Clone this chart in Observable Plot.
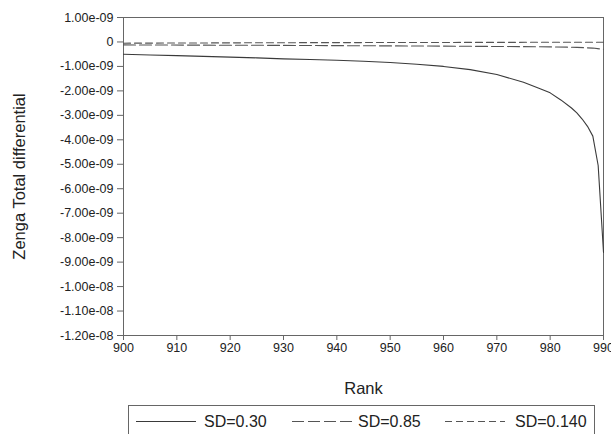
<!DOCTYPE html>
<html>
<head>
<meta charset="utf-8">
<script src="https://cdn.jsdelivr.net/npm/d3@7"></script>
<script src="https://cdn.jsdelivr.net/npm/@observablehq/plot@0.6"></script>
<style>
  html, body { margin: 0; padding: 0; background: #fff; }
  body { width: 611px; height: 434px; position: relative; overflow: hidden; font-family: "Liberation Sans", Arial, sans-serif; }
  #legend { position: absolute; left: 128px; top: 405px; width: 467px; height: 40px; border: 1px solid #666; box-sizing: border-box; }
  .item { position: absolute; top: 0; height: 30px; }
  .item svg { position: absolute; top: 0; }
  .item span { position: absolute; top: 7px; font-size: 16px; color: #222; white-space: nowrap; }
</style>
</head>
<body>
<div id="chart"></div>
<div id="legend"></div>
<script>
// Series: SD=0.30 (solid)
const ranksA = [900, 905, 910, 915, 920, 925, 930, 935, 940, 945, 950, 955, 960, 965, 970, 975, 978, 980, 982, 984, 985, 986, 987, 988, 989, 990];
const sd030  = [-0.50e-9, -0.53e-9, -0.56e-9, -0.59e-9, -0.62e-9, -0.65e-9, -0.69e-9, -0.72e-9, -0.75e-9, -0.79e-9, -0.84e-9, -0.91e-9, -1.00e-9, -1.13e-9, -1.33e-9, -1.65e-9, -1.90e-9, -2.08e-9, -2.37e-9, -2.70e-9, -2.90e-9, -3.15e-9, -3.45e-9, -3.85e-9, -5.05e-9, -8.60e-9];
// Series: SD=0.85 (long dash)
const ranksB = [900, 930, 960, 980, 985, 988, 990];
const sd085  = [-0.12e-9, -0.14e-9, -0.17e-9, -0.20e-9, -0.22e-9, -0.25e-9, -0.30e-9];
// Series: SD=0.140 (short dash)
const ranksC = [900, 930, 960, 990];
const sd0140 = [-0.05e-9, -0.03e-9, -0.02e-9, -0.01e-9];

const seriesNames = ["SD=0.30", "SD=0.85", "SD=0.140"];
const dashes = [null, "12,4", "7,4"];

const xTicks = [900, 910, 920, 930, 940, 950, 960, 970, 980, 990];
const yTicks = [1e-9, 0, -1e-9, -2e-9, -3e-9, -4e-9, -5e-9, -6e-9, -7e-9, -8e-9, -9e-9, -1e-8, -1.1e-8, -1.2e-8];
const yTickLabels = ["1.00e-09", "0", "-1.00e-09", "-2.00e-09", "-3.00e-09", "-4.00e-09", "-5.00e-09", "-6.00e-09", "-7.00e-09", "-8.00e-09", "-9.00e-09", "-1.00e-08", "-1.10e-08", "-1.20e-08"];

const toRows = (xs, ys) => xs.map((x, i) => ({x, y: ys[i]}));
const rowsA = toRows(ranksA, sd030);
const rowsB = toRows(ranksB, sd085);
const rowsC = toRows(ranksC, sd0140);

const lineColor = "#3a3a3a";

const chart = Plot.plot({
  width: 611,
  height: 400,
  marginLeft: 123,
  marginRight: 8,
  marginTop: 17,
  marginBottom: 65,
  style: { fontFamily: "'Liberation Sans', Arial, sans-serif", fontSize: "12.5px", color: "#222", background: "#fff" },
  x: { domain: [900, 990] },
  y: { domain: [-1.2e-8, 1e-9] },
  marks: [
    Plot.frame({ stroke: "#666" }),
    Plot.lineY(rowsC, { x: "x", y: "y", stroke: "#555", strokeWidth: 1.1, strokeDasharray: dashes[2] }),
    Plot.lineY(rowsB, { x: "x", y: "y", stroke: "#555", strokeWidth: 1.1, strokeDasharray: dashes[1] }),
    Plot.lineY(rowsA, { x: "x", y: "y", stroke: lineColor, strokeWidth: 1.1 }),
    Plot.axisX({ ticks: xTicks, tickSize: 5, tickPadding: 3, tickFormat: d => String(d), label: null, stroke: "#666" }),
    Plot.axisX({ ticks: [], label: "Rank", labelAnchor: "center", labelArrow: "none", labelOffset: 58, fontSize: 16.5 }),
    Plot.axisY({ ticks: yTicks, tickSize: 6, tickPadding: 4, tickFormat: d => yTickLabels[yTicks.indexOf(d)], label: null, stroke: "#666" }),
    Plot.axisY({ ticks: [], label: "Zenga Total differential", labelAnchor: "center", labelArrow: "none", labelOffset: 110, fontSize: 16.5 })
  ]
});
document.getElementById("chart").appendChild(chart);

// Legend
const legend = document.getElementById("legend");
const itemPos = [
  { sw: 7, tx: 75 },
  { sw: 163, tx: 229 },
  { sw: 316, tx: 386 }
];
seriesNames.forEach((name, i) => {
  const d = document.createElement("div");
  d.className = "item";
  d.style.left = itemPos[i].sw + "px";
  const s = d3.create("svg").attr("width", 62).attr("height", 30).style("left", "0px");
  s.append("line").attr("x1", 0).attr("x2", 60).attr("y1", 15.5).attr("y2", 15.5)
    .attr("stroke", i === 0 ? lineColor : "#555").attr("stroke-width", 1.1)
    .attr("stroke-dasharray", dashes[i]);
  d.appendChild(s.node());
  const t = document.createElement("span");
  t.textContent = name;
  t.style.left = (itemPos[i].tx - itemPos[i].sw) + "px";
  d.appendChild(t);
  legend.appendChild(d);
});
</script>
</body>
</html>
